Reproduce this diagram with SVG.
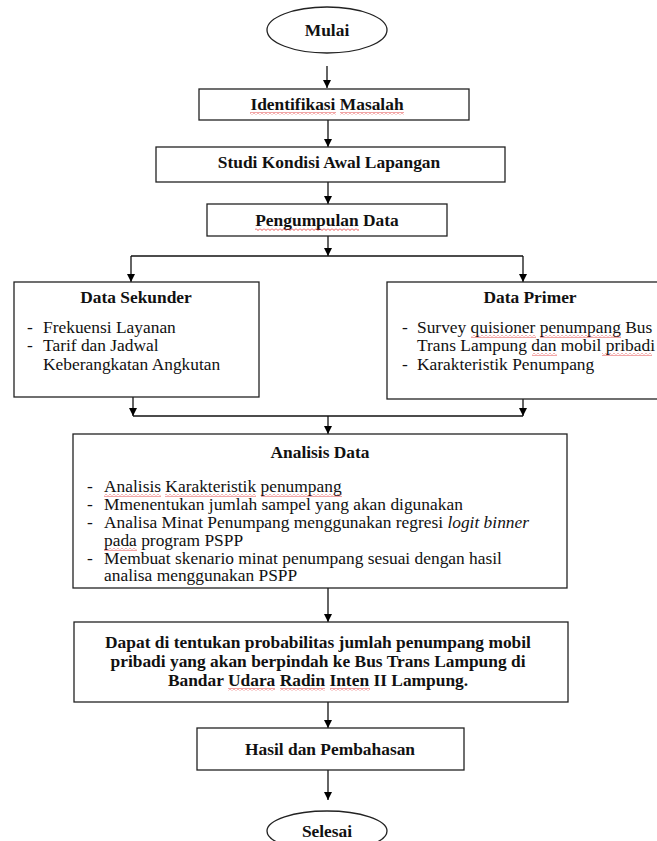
<svg xmlns="http://www.w3.org/2000/svg" width="657" height="841" viewBox="0 0 657 841">
<defs>
<marker id="ah" markerWidth="8" markerHeight="10" refX="8" refY="4" orient="auto" markerUnits="userSpaceOnUse">
<path d="M0,0 L8,4 L0,8 Z" fill="#000"/>
</marker>
<pattern id="sq" width="4" height="3" patternUnits="userSpaceOnUse">
<path d="M0,0.5 L2,2.5 L4,0.5" fill="none" stroke="#e02020" stroke-width="0.8"/>
</pattern>
</defs>
<style>
.box{fill:#fff;stroke:#222;stroke-width:1.3}
.cn{fill:none;stroke:#111;stroke-width:1.3}
.ar{fill:none;stroke:#111;stroke-width:1.3;marker-end:url(#ah)}
.r{font-family:'Liberation Serif',serif;font-size:17.4px;fill:#111}
.b{font-family:'Liberation Serif',serif;font-size:17.4px;font-weight:bold;fill:#111}
.sq{fill:url(#sq)}
</style>
<rect width="657" height="841" fill="#fff"/>

<g id="connectors">
<path class="ar" d="M327,66 V88"/>
<path class="ar" d="M328,120 V147"/>
<path class="ar" d="M328,182 V204"/>
<path class="ar" d="M328,236 V256"/>
<path class="cn" d="M131,256 H523"/>
<path class="ar" d="M131,256 V282"/>
<path class="ar" d="M523,256 V282"/>
<path class="ar" d="M133,397 V416"/>
<path class="ar" d="M523,399 V416"/>
<path class="cn" d="M133,416 H523"/>
<path class="ar" d="M328,416 V434"/>
<path class="ar" d="M328,588 V622"/>
<path class="ar" d="M328,702 V728"/>
<path class="ar" d="M328,770 V800"/>
</g>

<g id="mulai">
<ellipse class="box" cx="327" cy="30" rx="60" ry="23"/>
<text class="b" x="327" y="36" text-anchor="middle">Mulai</text>
</g>

<g id="identifikasi">
<rect class="box" x="199" y="89" width="270" height="31"/>
<text class="b" x="327" y="110" text-anchor="middle">Identifikasi Masalah</text>
<rect class="sq" x="250" y="112" width="86" height="3"/>
<rect class="sq" x="340" y="112" width="64" height="3"/>
</g>

<g id="studi">
<rect class="box" x="156" y="147" width="349" height="35"/>
<text class="b" x="329" y="168" text-anchor="middle">Studi Kondisi Awal Lapangan</text>
</g>

<g id="pengumpulan">
<rect class="box" x="207" y="204" width="240" height="32"/>
<text class="b" x="327" y="226" text-anchor="middle">Pengumpulan Data</text>
<rect class="sq" x="255" y="228" width="104" height="3"/>
</g>

<g id="sekunder">
<rect class="box" x="14" y="282" width="245" height="115"/>
<text class="b" x="136" y="303" text-anchor="middle">Data Sekunder</text>
<text class="r"><tspan x="27" y="333">-</tspan><tspan x="43" y="333">Frekuensi Layanan</tspan><tspan x="27" y="351">-</tspan><tspan x="43" y="351">Tarif dan Jadwal</tspan><tspan x="43" y="370">Keberangkatan Angkutan</tspan></text>
</g>

<g id="primer">
<rect class="box" x="387" y="282" width="290" height="117"/>
<text class="b" x="530" y="303" text-anchor="middle">Data Primer</text>
<text class="r"><tspan x="402" y="333">-</tspan><tspan x="417" y="333">Survey quisioner penumpang Bus</tspan><tspan x="417" y="351">Trans Lampung dan mobil pribadi</tspan><tspan x="402" y="370">-</tspan><tspan x="417" y="370">Karakteristik Penumpang</tspan></text>
<rect class="sq" x="471" y="335" width="65" height="3"/>
<rect class="sq" x="540" y="335" width="81" height="3"/>
<rect class="sq" x="532" y="353" width="25" height="3"/>
<rect class="sq" x="602" y="353" width="50" height="3"/>
</g>

<g id="analisis">
<rect class="box" x="73" y="434" width="494" height="154"/>
<text class="b" x="320" y="458" text-anchor="middle">Analisis Data</text>
<text class="r"><tspan x="87" y="492">-</tspan><tspan x="104" y="492">Analisis Karakteristik penumpang</tspan><tspan x="87" y="510">-</tspan><tspan x="104" y="510">Mmenentukan jumlah sampel yang akan digunakan</tspan><tspan x="87" y="528">-</tspan><tspan x="104" y="528">Analisa Minat Penumpang menggunakan regresi </tspan><tspan font-style="italic">logit binner</tspan><tspan x="104" y="546">pada program PSPP</tspan><tspan x="87" y="564">-</tspan><tspan x="104" y="564">Membuat skenario minat penumpang sesuai dengan hasil</tspan><tspan x="104" y="581">analisa menggunakan PSPP</tspan></text>
<rect class="sq" x="104" y="494" width="57" height="3"/>
<rect class="sq" x="165" y="494" width="91" height="3"/>
<rect class="sq" x="261" y="494" width="81" height="3"/>
<rect class="sq" x="104" y="548" width="33" height="3"/>
</g>

<g id="dapat">
<rect class="box" x="74" y="622" width="494" height="80"/>
<text class="b" text-anchor="middle"><tspan x="318" y="648">Dapat di tentukan probabilitas jumlah penumpang mobil</tspan><tspan x="318" y="667">pribadi yang akan berpindah ke Bus Trans Lampung di</tspan><tspan x="318" y="686">Bandar Udara Radin Inten II Lampung.</tspan></text>
<rect class="sq" x="228" y="688" width="47" height="3"/>
<rect class="sq" x="280" y="688" width="45" height="3"/>
<rect class="sq" x="330" y="688" width="40" height="3"/>
</g>

<g id="hasil">
<rect class="box" x="197" y="728" width="267" height="42"/>
<text class="b" x="330" y="755" text-anchor="middle">Hasil dan Pembahasan</text>
</g>

<g id="selesai">
<ellipse class="box" cx="327" cy="831" rx="60" ry="20"/>
<text class="b" x="327" y="837" text-anchor="middle">Selesai</text>
</g>
</svg>
